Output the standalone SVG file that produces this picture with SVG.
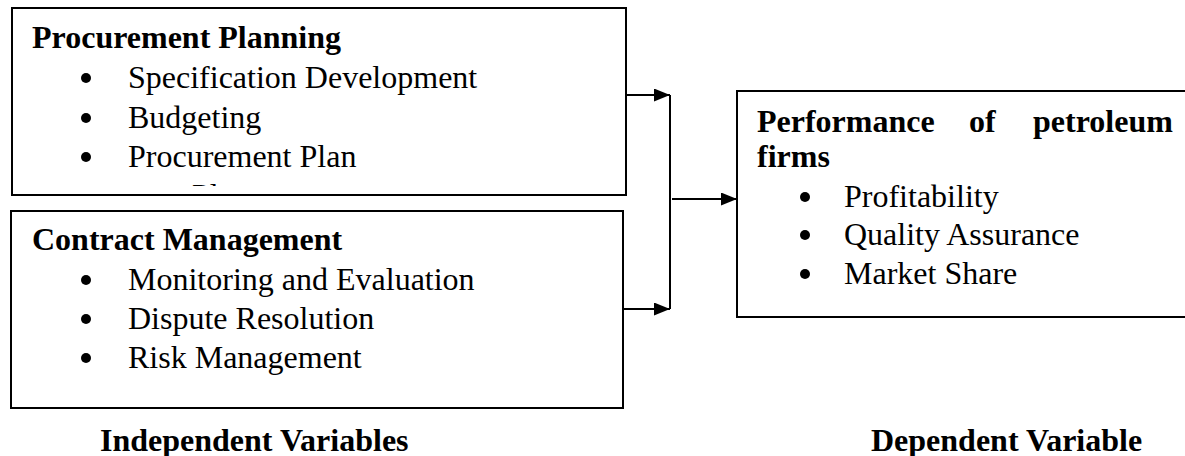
<svg xmlns="http://www.w3.org/2000/svg" width="1185" height="456" viewBox="0 0 1185 456">
<style>
.box{fill:#fff;stroke:#000;stroke-width:2}
.h{font-family:"Liberation Serif","Times New Roman",serif;font-size:32px;font-weight:bold;fill:#000}
.t{font-family:"Liberation Serif","Times New Roman",serif;font-size:32px;fill:#000}
.c{stroke:#000;stroke-width:2;fill:none}
</style>
<defs>
<marker id="ah" markerWidth="16" markerHeight="13" refX="16" refY="6.5" orient="auto" markerUnits="userSpaceOnUse">
<path d="M0,0 L16,6.5 L0,13 Z" fill="#000"/>
</marker>
<clipPath id="frag"><rect x="180" y="182" width="60" height="4"/></clipPath>
</defs>
<rect width="1185" height="456" fill="#fff"/>
<g id="procurement-planning">
<rect class="box" x="12" y="8" width="614" height="187"/>
<text class="h" x="32" y="48">Procurement Planning</text>
<circle cx="86" cy="78" r="5"/><text class="t" x="128" y="88">Specification Development</text>
<circle cx="86" cy="118" r="5"/><text class="t" x="128" y="128">Budgeting</text>
<circle cx="86" cy="157" r="5"/><text class="t" x="128" y="167">Procurement Plan</text>
<text class="t" x="192" y="206" clip-path="url(#frag)" fill="#888">Pl</text>
</g>
<g id="contract-management">
<rect class="box" x="11" y="211" width="612" height="197"/>
<text class="h" x="32" y="250">Contract Management</text>
<circle cx="86" cy="280" r="5"/><text class="t" x="128" y="290">Monitoring and Evaluation</text>
<circle cx="86" cy="319" r="5"/><text class="t" x="128" y="329">Dispute Resolution</text>
<circle cx="86" cy="358" r="5"/><text class="t" x="128" y="368">Risk Management</text>
</g>
<g id="performance">
<rect class="box" x="737" y="91" width="460" height="226"/>
<text class="h" x="757" y="132">Performance</text>
<text class="h" x="969" y="132">of</text>
<text class="h" x="1033" y="132">petroleum</text>
<text class="h" x="757" y="167">firms</text>
<circle cx="805" cy="197" r="5"/><text class="t" x="844" y="207">Profitability</text>
<circle cx="805" cy="235" r="5"/><text class="t" x="844" y="245">Quality Assurance</text>
<circle cx="805" cy="274" r="5"/><text class="t" x="844" y="284">Market Share</text>
</g>
<g id="connectors">
<line class="c" x1="626" y1="95" x2="670" y2="95" marker-end="url(#ah)"/>
<line class="c" x1="623" y1="309" x2="670" y2="309" marker-end="url(#ah)"/>
<line class="c" x1="670" y1="95" x2="670" y2="309"/>
<line class="c" x1="672" y1="199" x2="737" y2="199" marker-end="url(#ah)"/>
</g>
<g id="labels">
<text class="h" x="100" y="451">Independent Variables</text>
<text class="h" x="871" y="451">Dependent Variable</text>
</g>
</svg>
